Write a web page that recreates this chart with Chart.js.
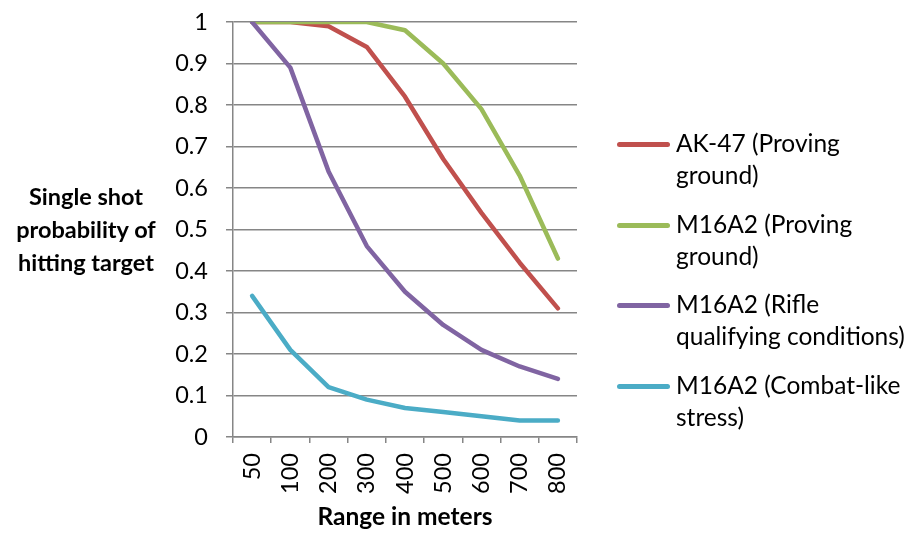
<!DOCTYPE html>
<html>
<head>
<meta charset="utf-8">
<script src="https://cdn.jsdelivr.net/npm/chart.js@4/dist/chart.umd.min.js"></script>
<style>
  html, body { margin: 0; padding: 0; background: #fff; }
  #wrap { position: relative; width: 909px; height: 533px; font-family: Lato, "Open Sans", sans-serif; color: #000; }
  #chart { position: absolute; left: 0; top: 0; }
  #y-title { position: absolute; left: 0; top: 180px; width: 172px; text-align: center; font-weight: bold; font-size: 23.5px; line-height: 33px; }
  #legend { position: absolute; left: 617px; top: 127px; width: 292px; }
  .item { position: absolute; left: 0; width: 292px; }
  .swatch { position: absolute; left: 0; top: 15px; width: 53px; height: 5px; border-radius: 3px; }
  .label { position: absolute; left: 59px; top: 0; width: 250px; font-size: 24.5px; line-height: 32px; }
</style>
</head>
<body>
<div id="wrap">
  <canvas id="chart" width="909" height="533"></canvas>
  <div id="y-title">Single shot<br>probability of<br>hitting target</div>
  <div id="legend"></div>
</div>
<script>
const ranges = ["50", "100", "200", "300", "400", "500", "600", "700", "800"];
const ak47Proving = [1, 1, 0.99, 0.94, 0.82, 0.67, 0.54, 0.42, 0.31];
const m16Proving = [1, 1, 1, 1, 0.98, 0.90, 0.79, 0.63, 0.43];
const m16Qualifying = [1, 0.89, 0.64, 0.46, 0.35, 0.27, 0.21, 0.17, 0.14];
const m16Combat = [0.34, 0.21, 0.12, 0.09, 0.07, 0.06, 0.05, 0.04, 0.04];
const seriesNames = [
  ["AK-47 (Proving", "ground)"],
  ["M16A2 (Proving", "ground)"],
  ["M16A2 (Rifle", "qualifying conditions)"],
  ["M16A2 (Combat-like", "stress)"],
];
const seriesColors = ["#C0504D", "#9BBB59", "#8064A2", "#4BACC6"];

const gridColor = "#868686";
const fontFamily = "Lato, 'Open Sans', sans-serif";

function makeDataset(idx, values) {
  return {
    label: seriesNames[idx].join(" "),
    data: values,
    borderColor: seriesColors[idx],
    backgroundColor: seriesColors[idx],
    borderWidth: 4.5,
    borderCapStyle: "round",
    borderJoinStyle: "round",
    pointRadius: 0,
    tension: 0,
    order: 4 - idx,
  };
}

const datasets = [
  makeDataset(0, ak47Proving),
  makeDataset(1, m16Proving),
  makeDataset(2, m16Qualifying),
  makeDataset(3, m16Combat),
];

new Chart(document.getElementById("chart").getContext("2d"), {
  type: "line",
  data: { labels: ranges, datasets },
  options: {
    responsive: false,
    animation: false,
    devicePixelRatio: 1,
    layout: { padding: { left: 0, right: 332, top: 22, bottom: 0 } },
    plugins: { legend: { display: false }, tooltip: { enabled: false } },
    scales: {
      x: {
        type: "category",
        offset: true,
        grid: { display: true, drawOnChartArea: false, drawTicks: true, tickLength: 6, color: gridColor, lineWidth: 1.5, offset: true },
        border: { color: gridColor, width: 1.5 },
        ticks: { minRotation: 90, maxRotation: 90, padding: 10, color: "#000", font: { family: fontFamily, size: 23.5 } },
        title: { display: true, text: "Range in meters", color: "#000", font: { family: fontFamily, size: 24.5, weight: "bold" }, padding: { top: 0, bottom: 1 } },
        afterFit(scale) { scale.height = 96; scale.paddingTop = 0; scale.paddingBottom = 0; },
      },
      y: {
        min: 0,
        max: 1,
        grid: { color: gridColor, lineWidth: 1.5, tickLength: 7 },
        border: { color: gridColor, width: 1.5 },
        ticks: { stepSize: 0.1, padding: 18, color: "#000", font: { family: fontFamily, size: 23.5 }, callback: (v) => String(Math.round(v * 10) / 10) },
        afterFit(scale) { scale.width = 233; scale.paddingTop = 0; scale.paddingBottom = 0; },
      },
    },
  },
});

const legend = document.getElementById("legend");
legend.innerHTML = seriesNames
  .map((lines, i) => `<div class="item" style="top:${i * 80.5}px"><div class="swatch" style="background:${seriesColors[i]}"></div><div class="label">${lines.join("<br>")}</div></div>`)
  .join("");
</script>
</body>
</html>
